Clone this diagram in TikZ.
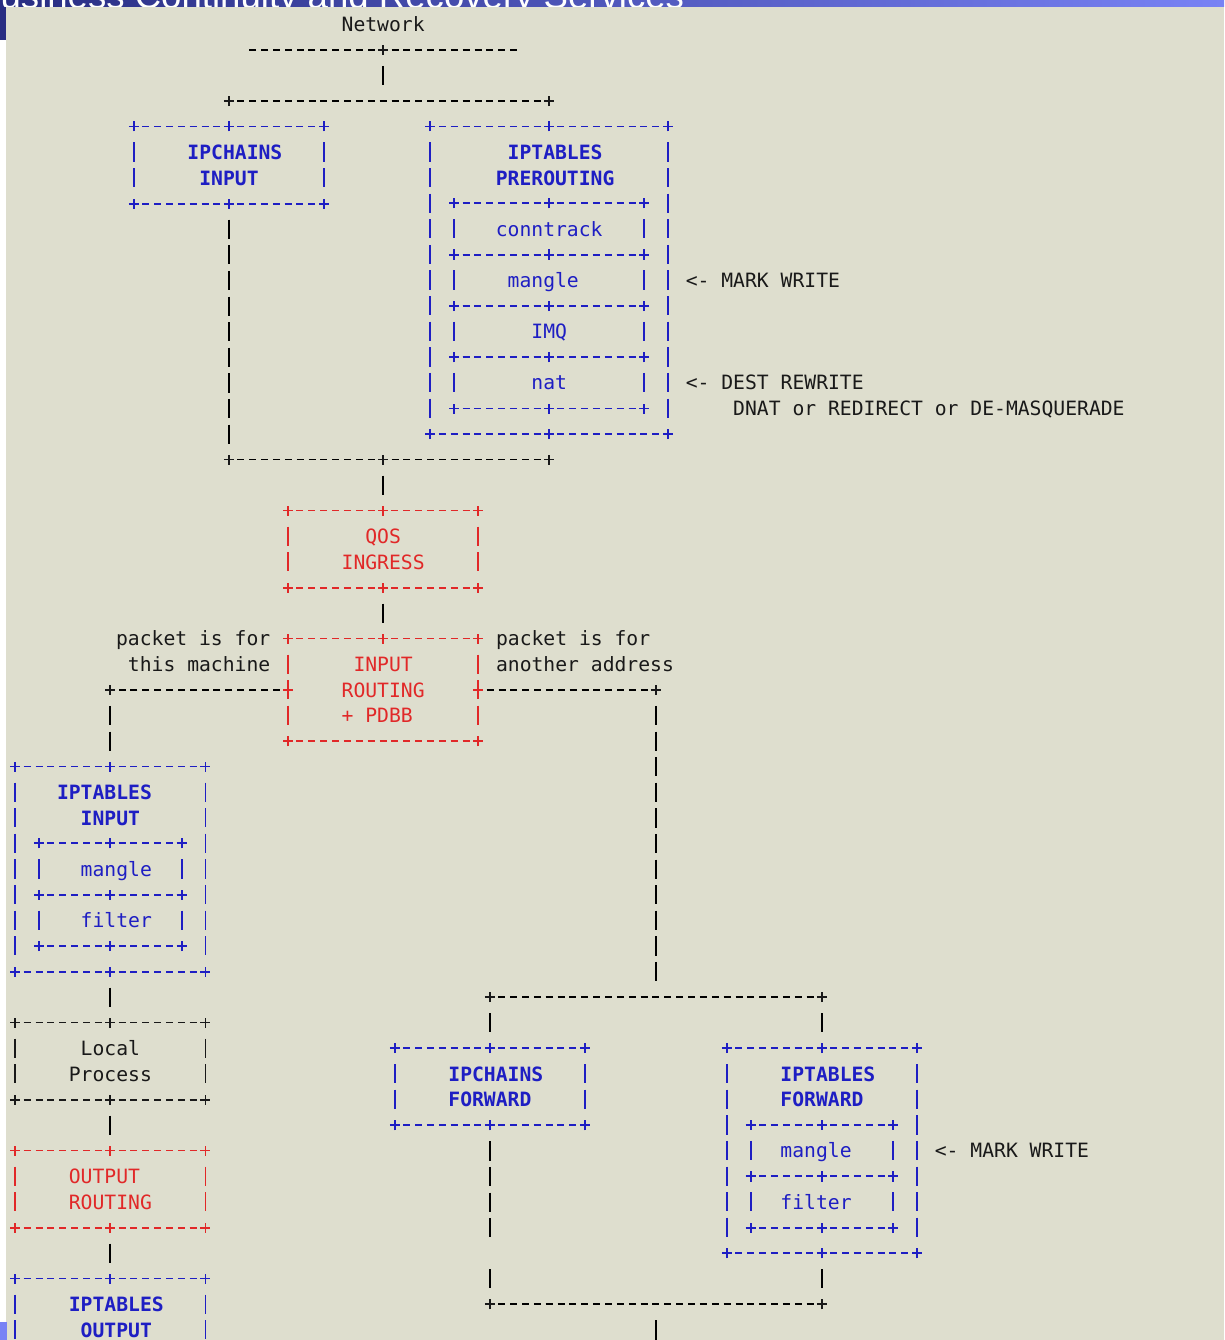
\documentclass[tikz,border=0pt]{standalone}
\usepackage{fontspec}
\usepackage{xcolor}
\usepackage{tikz}

\newfontfamily\monofont{DejaVu Sans Mono}
\newfontfamily\headfont{Liberation Sans}

\definecolor{paper}{RGB}{222,222,206}
\definecolor{ink}{RGB}{25,25,25}
\definecolor{tblue}{RGB}{30,30,195}
\definecolor{tred}{RGB}{225,40,40}
\definecolor{bardark}{RGB}{40,45,130}
\definecolor{barlight}{RGB}{120,130,245}

% dashed frame with plus marks, drawn round a box node
\newcommand{\asciiframe}[3][north west,north,north east,south west,south,south east]{%
  \draw[#3,hline] (#2.north west) -- (#2.north east);
  \draw[#3,hline] (#2.south west) -- (#2.south east);
  \draw[#3,vline] (#2.north west) -- (#2.south west);
  \draw[#3,vline] (#2.north east) -- (#2.south east);
  \foreach \a in {#1} \pic[#3] at (#2.\a) {plusmark};
}

\begin{document}
\begin{tikzpicture}[
    x=11.86pt, y=-25.6pt,
    chars/.style={font=\monofont\fontsize{19.7}{24}\selectfont, text=#1, inner sep=0pt, anchor=base, yshift=-7.2pt},
    chars/.default=ink,
    heading/.style={chars=#1, font=\monofont\bfseries\fontsize{19.7}{24}\selectfont},
    hline/.style={line width=1.9pt, dash pattern=on 7pt off 4.86pt, shorten <=8.4pt, shorten >=8.4pt},
    vline/.style={line width=1.9pt, dash pattern=on 19.2pt off 6.4pt, shorten <=16pt, shorten >=16pt},
    abox/.style 2 args={rectangle, inner sep=0pt, minimum width=#1*11.86pt, minimum height=#2*25.6pt},
    plusmark/.pic={\draw[line width=1.9pt] (-5pt,0) -- (5pt,0) (0,-5pt) -- (0,5pt);}
]
    \path[use as bounding box] (-15.5pt,24.3pt) rectangle (1208.5pt,-1315.7pt);

    % screen background
    \begin{scope}[x=1pt, y=-1pt, shift={(-15.5pt,24.3pt)}]
        \fill[paper] (0,0) rectangle (1224,1340);
        \fill[white] (0,40) rectangle (6,1322);
        \fill[barlight] (0,1322) rectangle (7,1340);
        \shade[left color=bardark, right color=barlight] (0,0) rectangle (1224,7);
        \fill[bardark] (0,0) rectangle (6,40);
        \begin{scope}
            \clip (0,0) rectangle (1224,7);
            \node[font=\headfont\fontsize{36.6}{40}\selectfont, text=white, inner sep=0pt, anchor=base west] (banner) at (-24,8.5) {Business Continuity and Recovery Services};
        \end{scope}
    \end{scope}

    % network in
    \node[chars] (net) at (31,0) {Network};
    \coordinate (netL) at (19,1);
    \coordinate (netJ) at (31,1);
    \coordinate (netR) at (43,1);
    \coordinate (splitL) at (18,3);
    \coordinate (splitM) at (31,3);
    \coordinate (splitR) at (45,3);
    \draw[hline] (netJ) -- (netL);
    \draw[hline] (netJ) -- (netR);
    \draw[vline] (netJ) -- (splitM);
    \draw[hline] (splitL) -- (splitR);

    % ipchains input
    \node[abox={16}{3}] (ipcin) at (18,5.5) {};
    \asciiframe{ipcin}{tblue}
    \node[heading=tblue] (ipcinA) at (18.5,5) {IPCHAINS};
    \node[heading=tblue] (ipcinB) at (18,6) {INPUT};

    % iptables prerouting
    \node[abox={20}{12}] (prert) at (45,10) {};
    \asciiframe{prert}{tblue}
    \node[heading=tblue] (prertA) at (45.5,5) {IPTABLES};
    \node[heading=tblue] (prertB) at (45.5,6) {PREROUTING};
    \foreach \t/\c/\r [count=\i] in {conntrack/45/8, mangle/44.5/10, IMQ/45/12, nat/45/14} {
        \node[abox={16}{2}] (prert\i) at (45,\r) {};
        \asciiframe{prert\i}{tblue}
        \node[chars=tblue] (prertT\i) at (\c,\r) {\t};
    }
    \node[chars, anchor=base west] (markA) at (56.5,10) {<- MARK WRITE};
    \node[chars, anchor=base west] (destA) at (56.5,14) {<- DEST REWRITE};
    \node[chars, anchor=base west] (destB) at (60.5,15) {DNAT or REDIRECT or DE-MASQUERADE};

    % merge and qos
    \coordinate (mergeL) at (18,17);
    \coordinate (mergeM) at (31,17);
    \coordinate (mergeR) at (45,17);
    \draw[vline] (ipcin.south) -- (mergeL);
    \draw[hline] (mergeL) -- (mergeM);
    \draw[hline] (mergeM) -- (mergeR);

    \node[abox={16}{3}] (qos) at (31,20.5) {};
    \asciiframe{qos}{tred}
    \node[chars=tred] (qosA) at (31,20) {QOS};
    \node[chars=tred] (qosB) at (31,21) {INGRESS};
    \draw[vline] (mergeM) -- (qos.north);

    % input routing
    \node[abox={16}{4}] (route) at (31,26) {};
    \asciiframe[north west,north,north east,south west,south east,west,east]{route}{tred}
    \node[chars=tred] (routeA) at (31,25) {INPUT};
    \node[chars=tred] (routeB) at (31,26) {ROUTING};
    \node[chars=tred] (routeC) at (30.5,27) {+ PDBB};
    \draw[vline] (qos.south) -- (route.north);

    \node[chars, anchor=base east] (localA) at (21.5,24) {packet is for};
    \node[chars, anchor=base east] (localB) at (21.5,25) {this machine};
    \node[chars, anchor=base west] (fwdA) at (40.5,24) {packet is for};
    \node[chars, anchor=base west] (fwdB) at (40.5,25) {another address};

    \coordinate (toLocal) at (8,26);
    \coordinate (toFwd) at (54,26);
    \draw[hline] (route.west) -- (toLocal);
    \draw[hline] (route.east) -- (toFwd);

    % local side
    \node[abox={16}{8}] (iptin) at (8,33) {};
    \asciiframe{iptin}{tblue}
    \node[heading=tblue] (iptinA) at (7.5,30) {IPTABLES};
    \node[heading=tblue] (iptinB) at (8,31) {INPUT};
    \foreach \t/\r [count=\i] in {mangle/33, filter/35} {
        \node[abox={12}{2}] (iptin\i) at (8,\r) {};
        \asciiframe{iptin\i}{tblue}
        \node[chars=tblue] (iptinT\i) at (8.5,\r) {\t};
    }
    \draw[vline] (toLocal) -- (iptin.north);

    \node[abox={16}{3}] (local) at (8,40.5) {};
    \asciiframe{local}{ink}
    \node[chars] (procA) at (8,40) {Local};
    \node[chars] (procB) at (8,41) {Process};
    \draw[vline] (iptin.south) -- (local.north);

    \node[abox={16}{3}] (outrt) at (8,45.5) {};
    \asciiframe{outrt}{tred}
    \node[chars=tred] (outrtA) at (7.5,45) {OUTPUT};
    \node[chars=tred] (outrtB) at (8,46) {ROUTING};
    \draw[vline] (local.south) -- (outrt.north);

    \node[abox={16}{8}] (iptout) at (8,53) {};
    \asciiframe{iptout}{tblue}
    \node[heading=tblue] (iptoutA) at (8.5,50) {IPTABLES};
    \node[heading=tblue] (iptoutB) at (8.5,51) {OUTPUT};
    \draw[vline] (outrt.south) -- (iptout.north);

    % forward side
    \coordinate (fwdM) at (54,38);
    \coordinate (fwdL) at (40,38);
    \coordinate (fwdR) at (68,38);
    \draw[vline] (toFwd) -- (fwdM);
    \draw[hline] (fwdL) -- (fwdR);

    \node[abox={16}{3}] (ipcfwd) at (40,41.5) {};
    \asciiframe{ipcfwd}{tblue}
    \node[heading=tblue] (ipcfwdA) at (40.5,41) {IPCHAINS};
    \node[heading=tblue] (ipcfwdB) at (40,42) {FORWARD};
    \draw[vline] (fwdL) -- (ipcfwd.north);

    \node[abox={16}{8}] (iptfwd) at (68,44) {};
    \asciiframe{iptfwd}{tblue}
    \node[heading=tblue] (iptfwdA) at (68.5,41) {IPTABLES};
    \node[heading=tblue] (iptfwdB) at (68,42) {FORWARD};
    \foreach \t/\r [count=\i] in {mangle/44, filter/46} {
        \node[abox={12}{2}] (iptfwd\i) at (68,\r) {};
        \asciiframe{iptfwd\i}{tblue}
        \node[chars=tblue] (iptfwdT\i) at (67.5,\r) {\t};
    }
    \draw[vline] (fwdR) -- (iptfwd.north);
    \node[chars, anchor=base west] (markB) at (77.5,44) {<- MARK WRITE};

    \coordinate (joinL) at (40,50);
    \coordinate (joinM) at (54,50);
    \coordinate (joinR) at (68,50);
    \coordinate (fwdOut) at (54,52);
    \draw[vline, dash pattern=on 19.2pt off 6.4pt on 19.2pt off 6.4pt on 19.2pt off 6.4pt on 19.2pt off 32pt on 19.2pt off 6.4pt] (ipcfwd.south) -- (joinL);
    \draw[vline] (iptfwd.south) -- (joinR);
    \draw[hline] (joinL) -- (joinR);
    \draw[vline] (joinM) -- (fwdOut);

    % junction marks
    \foreach \p in {netJ,splitL,splitR,mergeL,mergeM,mergeR,toLocal,toFwd,fwdL,fwdR,joinL,joinR}
        \pic[ink] at (\p) {plusmark};
\end{tikzpicture}
\end{document}
